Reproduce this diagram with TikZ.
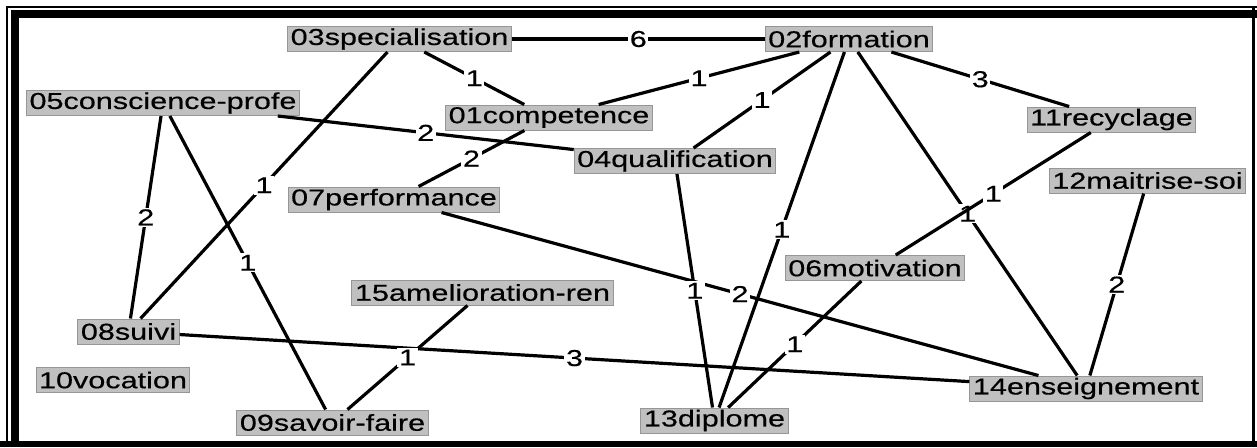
\documentclass[tikz,border=0pt]{standalone}
\usepackage{fontspec}
\setmainfont{Liberation Sans}[FakeStretch=1.33,FakeBold=0.4]
\definecolor{boxgray}{RGB}{192,192,192}
\definecolor{rimgray}{RGB}{150,150,150}

\begin{document}
\begin{tikzpicture}[x=0.5pt,y=-0.5pt,
	term/.style={fill=boxgray, draw=rimgray, line width=0.5pt, inner xsep=1.5pt, inner ysep=0pt, minimum height=12.5pt, font=\fontsize{11.5}{13}\selectfont},
	tie/.style={line width=1.6pt},
	weight/.style={fill=white, inner sep=0.8pt, font=\fontsize{11.5}{12}\selectfont}]
	\useasboundingbox (0,0) rectangle (1257,447);
	\fill (11,10) rectangle (1257,17.5);
	\fill (11,10) rectangle (19,447);
	\fill (0,441) rectangle (1257,447);
	\fill (1252,7) rectangle (1255,447);
	\draw[line width=0.6pt] (7,447) -- (7,7) -- (1257,7);

	\node[term] (c03) at (399.5,39) {03specialisation};
	\node[term] (c02) at (849,39) {02formation};
	\node[term] (c05) at (163,103) {05conscience-profe};
	\node[term] (c01) at (549,117.5) {01competence};
	\node[term] (c11) at (1111.5,119.5) {11recyclage};
	\node[term] (c04) at (675,161) {04qualification};
	\node[term] (c12) at (1147.5,180.5) {12maitrise-soi};
	\node[term] (c07) at (394,199.5) {07performance};
	\node[term] (c06) at (875,268) {06motivation};
	\node[term] (c15) at (482.5,292.5) {15amelioration-ren};
	\node[term] (c08) at (128.5,331.5) {08suivi};
	\node[term] (c10) at (113,380) {10vocation};
	\node[term] (c09) at (332.5,422.5) {09savoir-faire};
	\node[term] (c13) at (714.5,420.5) {13diplome};
	\node[term] (c14) at (1086,388.5) {14enseignement};

	\draw[tie] (c03) -- node[weight] {6} (c02);
	\draw[tie] (c03) -- node[weight] {1} (c01);
	\draw[tie] (c02) -- node[weight] {1} (c01);
	\draw[tie] (c02) -- node[weight] {1} (c04);
	\draw[tie] (c02) -- node[weight] {3} (c11);
	\draw[tie] (c02) -- node[weight] {1} (c13);
	\draw[tie] (c02) -- node[weight] {1} (c14);
	\draw[tie] (c05) -- node[weight] {2} (c04);
	\draw[tie] (c05) -- node[weight] {2} (c08);
	\draw[tie] (c05) -- node[weight] {1} (c09);
	\draw[tie] (c03) -- node[weight] {1} (c08);
	\draw[tie] (c01) -- node[weight] {2} (c07);
	\draw[tie] (c07) -- node[weight] {2} (c14);
	\draw[tie] (c04) -- node[weight] {1} (c13);
	\draw[tie] (c11) -- node[weight] {1} (c06);
	\draw[tie] (c06) -- node[weight] {1} (c13);
	\draw[tie] (c12) -- node[weight] {2} (c14);
	\draw[tie] (c08) -- node[weight] {3} (c14);
	\draw[tie] (c15) -- node[weight] {1} (c09);
\end{tikzpicture}
\end{document}
